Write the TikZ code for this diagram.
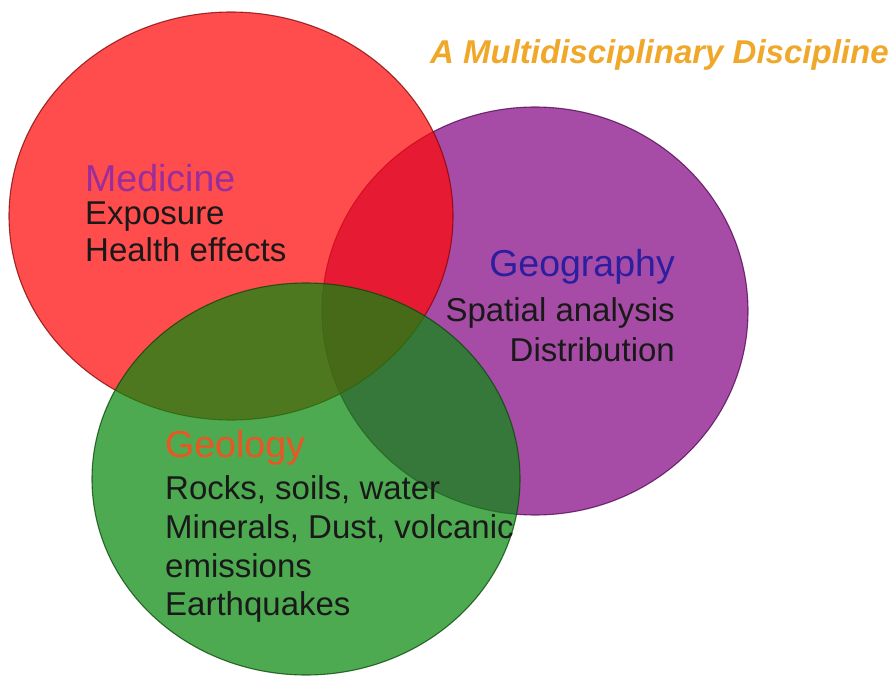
\documentclass[tikz,border=0pt]{standalone}
\usepackage{fontspec}
\setmainfont{Liberation Sans}
\usetikzlibrary{shapes.geometric}
\definecolor{redfill}{RGB}{255,8,8}
\definecolor{purplefill}{RGB}{132,7,132}
\definecolor{greenfill}{RGB}{10,138,15}
\definecolor{titlecol}{RGB}{240,168,42}
\definecolor{medcol}{RGB}{155,45,155}
\definecolor{geocol}{RGB}{45,30,160}
\definecolor{geolcol}{RGB}{235,85,35}
\tikzset{
  blob/.style={ellipse, inner sep=0pt, fill opacity=0.72, draw opacity=0.75, line width=1.1pt},
  heading/.style={anchor=base west, inner sep=0pt, font=\fontsize{37.5}{37.5}\selectfont},
  body/.style={anchor=base west, inner sep=0pt, font=\fontsize{33}{33}\selectfont, text=black!90},
  rhead/.style={heading, anchor=base east},
  rbody/.style={body, anchor=base east}
}
\begin{document}
\begin{tikzpicture}[x=1pt,y=-1pt]
\useasboundingbox[fill=white] (0,0) rectangle (895,679);
% circles
\node[blob, fill=purplefill, draw=purplefill!60!black, minimum width=426pt, minimum height=408pt] (geogc) at (535,311) {};
\node[blob, fill=redfill, draw=redfill!50!black, minimum width=444pt, minimum height=408pt] (medc) at (231,216) {};
\node[blob, fill=greenfill, draw=greenfill!50!black, minimum width=428pt, minimum height=392pt] (geolc) at (306,479) {};
% title
\node[anchor=base west, inner sep=0pt, text=titlecol, font=\fontsize{33}{33}\selectfont\bfseries\itshape] (title) at (430,64) {A Multidisciplinary Discipline};
% medicine
\node[heading, text=medcol] (med) at (85,192) {Medicine};
\node[body] (med1) at (85,225) {Exposure};
\node[body] (med2) at (85,262) {Health effects};
% geography
\node[rhead, text=geocol] (geo) at (675,277) {Geography};
\node[rbody] (geo1) at (675,322) {Spatial analysis};
\node[rbody] (geo2) at (675,362) {Distribution};
% geology
\node[heading, text=geolcol] (geol) at (165,457) {Geology};
\node[body] (geol1) at (165,499) {Rocks, soils, water};
\node[body] (geol2) at (165,538) {Minerals, Dust, volcanic};
\node[body] (geol3) at (165,577) {emissions};
\node[body] (geol4) at (165,615) {Earthquakes};
\end{tikzpicture}
\end{document}
